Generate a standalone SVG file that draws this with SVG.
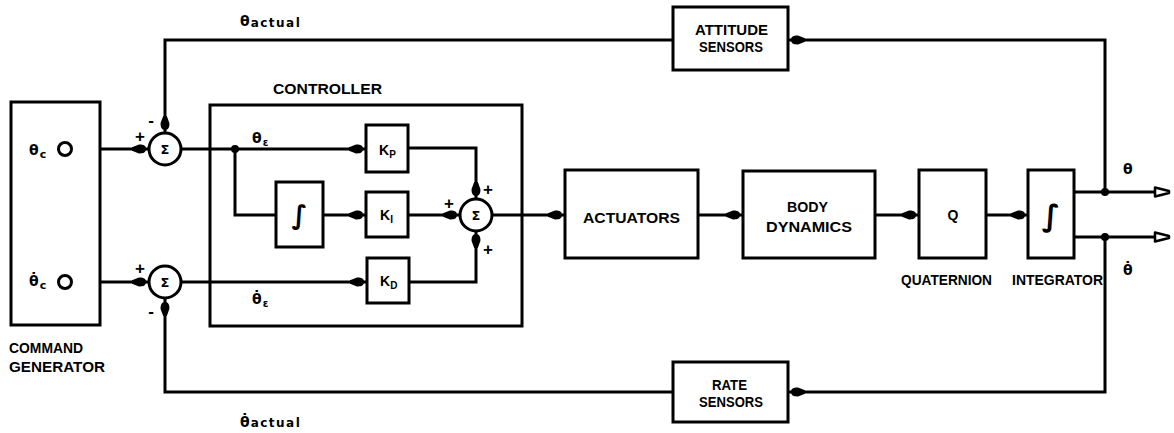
<svg xmlns="http://www.w3.org/2000/svg" width="1174" height="433" viewBox="0 0 1174 433">
<style>
.box{fill:#fff;stroke:#000;stroke-width:3}
.ln{fill:none;stroke:#000;stroke-width:3;stroke-linejoin:miter}
.arr{marker-end:url(#blob)}
.out{marker-end:url(#open)}
.t{font-family:"Liberation Sans",Arial,sans-serif;font-weight:bold;fill:#000;font-size:14px}
.s{font-family:"Liberation Sans",Arial,sans-serif;font-weight:bold;fill:#000;font-size:17px}
.g{font-family:"DejaVu Sans","Liberation Sans",sans-serif;font-weight:bold;fill:#000}
.dot{fill:#000}
.port{fill:#fff;stroke:#000;stroke-width:3}
</style>
<defs>
<marker id="blob" markerUnits="userSpaceOnUse" viewBox="-20 -6 20 12" refX="0" refY="0" markerWidth="20" markerHeight="12" orient="auto">
<path d="M-3,0 C-3,-3.5 -6,-4.6 -10,-4.4 L-17,-1.8 L-17,1.8 L-10,4.4 C-6,4.6 -3,3.5 -3,0 Z" fill="#000"/>
</marker>
<marker id="open" markerUnits="userSpaceOnUse" viewBox="-2 -7 18 14" refX="0" refY="0" markerWidth="18" markerHeight="14" orient="auto">
<path d="M0,-4.5 L14,-1 L14,1 L0,4.5 Z" fill="#fff" stroke="#000" stroke-width="2.5" stroke-linejoin="round"/>
</marker>
</defs>

<g id="connectors">
<path class="ln arr" d="M72,149 H149"/>
<path class="ln arr" d="M72,282 H149"/>
<path class="ln arr" d="M181,149 H366"/>
<path class="ln" d="M235,149 V215 H276"/>
<path class="ln arr" d="M323,215 H366"/>
<path class="ln arr" d="M181,282 H367"/>
<path class="ln arr" d="M408,148 H476 V199"/>
<path class="ln arr" d="M408,215 H460"/>
<path class="ln arr" d="M408,282 H476 V231"/>
<path class="ln arr" d="M492,215 H565"/>
<path class="ln arr" d="M698,215 H743"/>
<path class="ln arr" d="M875,215 H919"/>
<path class="ln arr" d="M986,215 H1028"/>
<path class="ln out" d="M1074,192 H1155"/>
<path class="ln out" d="M1074,237 H1155"/>
<path class="ln arr" d="M1105,192 V40 H788"/>
<path class="ln arr" d="M673,40 H165 V133"/>
<path class="ln arr" d="M1105,237 V392 H788"/>
<path class="ln arr" d="M673,392 H165 V299"/>
<circle class="dot" cx="235" cy="149" r="4"/>
<circle class="dot" cx="1105" cy="192" r="4"/>
<circle class="dot" cx="1105" cy="237" r="4"/>
<text class="g" x="240" y="26" font-size="14">θ<tspan font-size="12" dx="1" dy="1" letter-spacing="1.5">actual</tspan></text>
<text class="g" x="240" y="427" font-size="14">θ̇<tspan font-size="12" dx="1" dy="0" letter-spacing="1.5">actual</tspan></text>
<text class="g" x="1123" y="174" font-size="14">θ</text>
<text class="g" x="1123" y="275" font-size="14">θ̇</text>
<text class="g" x="252" y="143" font-size="14">θ<tspan font-size="10" dx="1" dy="3">ε</tspan></text>
<text class="g" x="252" y="304" font-size="14">θ̇<tspan font-size="10" dx="1" dy="3">ε</tspan></text>
</g>

<g id="command_generator">
<rect class="box" x="11" y="102" width="89" height="223"/>
<circle class="port" cx="65" cy="149" r="6.5"/>
<circle class="port" cx="65" cy="282" r="6.5"/>
<text class="g" x="29" y="155" font-size="14">θ<tspan font-size="11" dx="1" dy="3">c</tspan></text>
<text class="g" x="29" y="286" font-size="14">θ̇<tspan font-size="11" dx="1" dy="3">c</tspan></text>
<text class="t" x="9" y="353" textLength="74" lengthAdjust="spacingAndGlyphs">COMMAND</text>
<text class="t" x="9" y="372" textLength="96" lengthAdjust="spacingAndGlyphs">GENERATOR</text>
</g>

<g id="sum1">
<circle class="box" cx="165" cy="149" r="16"/>
<text class="g" x="165" y="154" font-size="13" text-anchor="middle">Σ</text>
<text class="s" x="140" y="142" text-anchor="middle">+</text>
<text class="s" x="151" y="126" text-anchor="middle">-</text>
</g>

<g id="sum2">
<circle class="box" cx="165" cy="282" r="16"/>
<text class="g" x="165" y="287" font-size="13" text-anchor="middle">Σ</text>
<text class="s" x="140" y="274" text-anchor="middle">+</text>
<text class="s" x="151" y="317" text-anchor="middle">-</text>
</g>

<g id="controller">
<rect x="210" y="105" width="312" height="221" fill="none" stroke="#000" stroke-width="3"/>
<text class="t" x="273" y="94" textLength="109" lengthAdjust="spacingAndGlyphs">CONTROLLER</text>
</g>

<g id="kp">
<rect class="box" x="366" y="125" width="42" height="47"/>
<text class="t" x="379" y="155">K<tspan font-size="10" dy="3">P</tspan></text>
</g>

<g id="integral">
<rect class="box" x="276" y="182" width="47" height="65"/>
<text class="g" x="299.5" y="224" font-size="26" font-weight="normal" text-anchor="middle">∫</text>
</g>

<g id="ki">
<rect class="box" x="366" y="192" width="42" height="45"/>
<text class="t" x="380" y="220">K<tspan font-size="10" dy="3">I</tspan></text>
</g>

<g id="kd">
<rect class="box" x="367" y="258" width="42" height="45"/>
<text class="t" x="380" y="286">K<tspan font-size="10" dy="3">D</tspan></text>
</g>

<g id="sum3">
<circle class="box" cx="476" cy="215" r="16"/>
<text class="g" x="476" y="220" font-size="13" text-anchor="middle">Σ</text>
<text class="s" x="488" y="195" text-anchor="middle">+</text>
<text class="s" x="449" y="209" text-anchor="middle">+</text>
<text class="s" x="488" y="255" text-anchor="middle">+</text>
</g>

<g id="actuators">
<rect class="box" x="565" y="170" width="133" height="88"/>
<text class="t" x="583" y="223" textLength="97" lengthAdjust="spacingAndGlyphs">ACTUATORS</text>
</g>

<g id="body_dynamics">
<rect class="box" x="743" y="171" width="132" height="87"/>
<text class="t" x="787" y="212" textLength="41" lengthAdjust="spacingAndGlyphs">BODY</text>
<text class="t" x="766" y="232" textLength="86" lengthAdjust="spacingAndGlyphs">DYNAMICS</text>
</g>

<g id="quaternion">
<rect class="box" x="919" y="170" width="67" height="88"/>
<text class="t" x="953" y="220" text-anchor="middle">Q</text>
<text class="t" x="901" y="285" textLength="91" lengthAdjust="spacingAndGlyphs">QUATERNION</text>
</g>

<g id="integrator">
<rect class="box" x="1028" y="170" width="46" height="88"/>
<text class="g" x="1051" y="226" font-size="30" font-weight="normal" text-anchor="middle">∫</text>
<text class="t" x="1012" y="285" textLength="91" lengthAdjust="spacingAndGlyphs">INTEGRATOR</text>
</g>

<g id="attitude_sensors">
<rect class="box" x="673" y="7" width="115" height="63"/>
<text class="t" x="695" y="35" textLength="73" lengthAdjust="spacingAndGlyphs">ATTITUDE</text>
<text class="t" x="699" y="52" textLength="64" lengthAdjust="spacingAndGlyphs">SENSORS</text>
</g>

<g id="rate_sensors">
<rect class="box" x="673" y="362" width="115" height="60"/>
<text class="t" x="712" y="390" textLength="35" lengthAdjust="spacingAndGlyphs">RATE</text>
<text class="t" x="699" y="407" textLength="64" lengthAdjust="spacingAndGlyphs">SENSORS</text>
</g>
</svg>
